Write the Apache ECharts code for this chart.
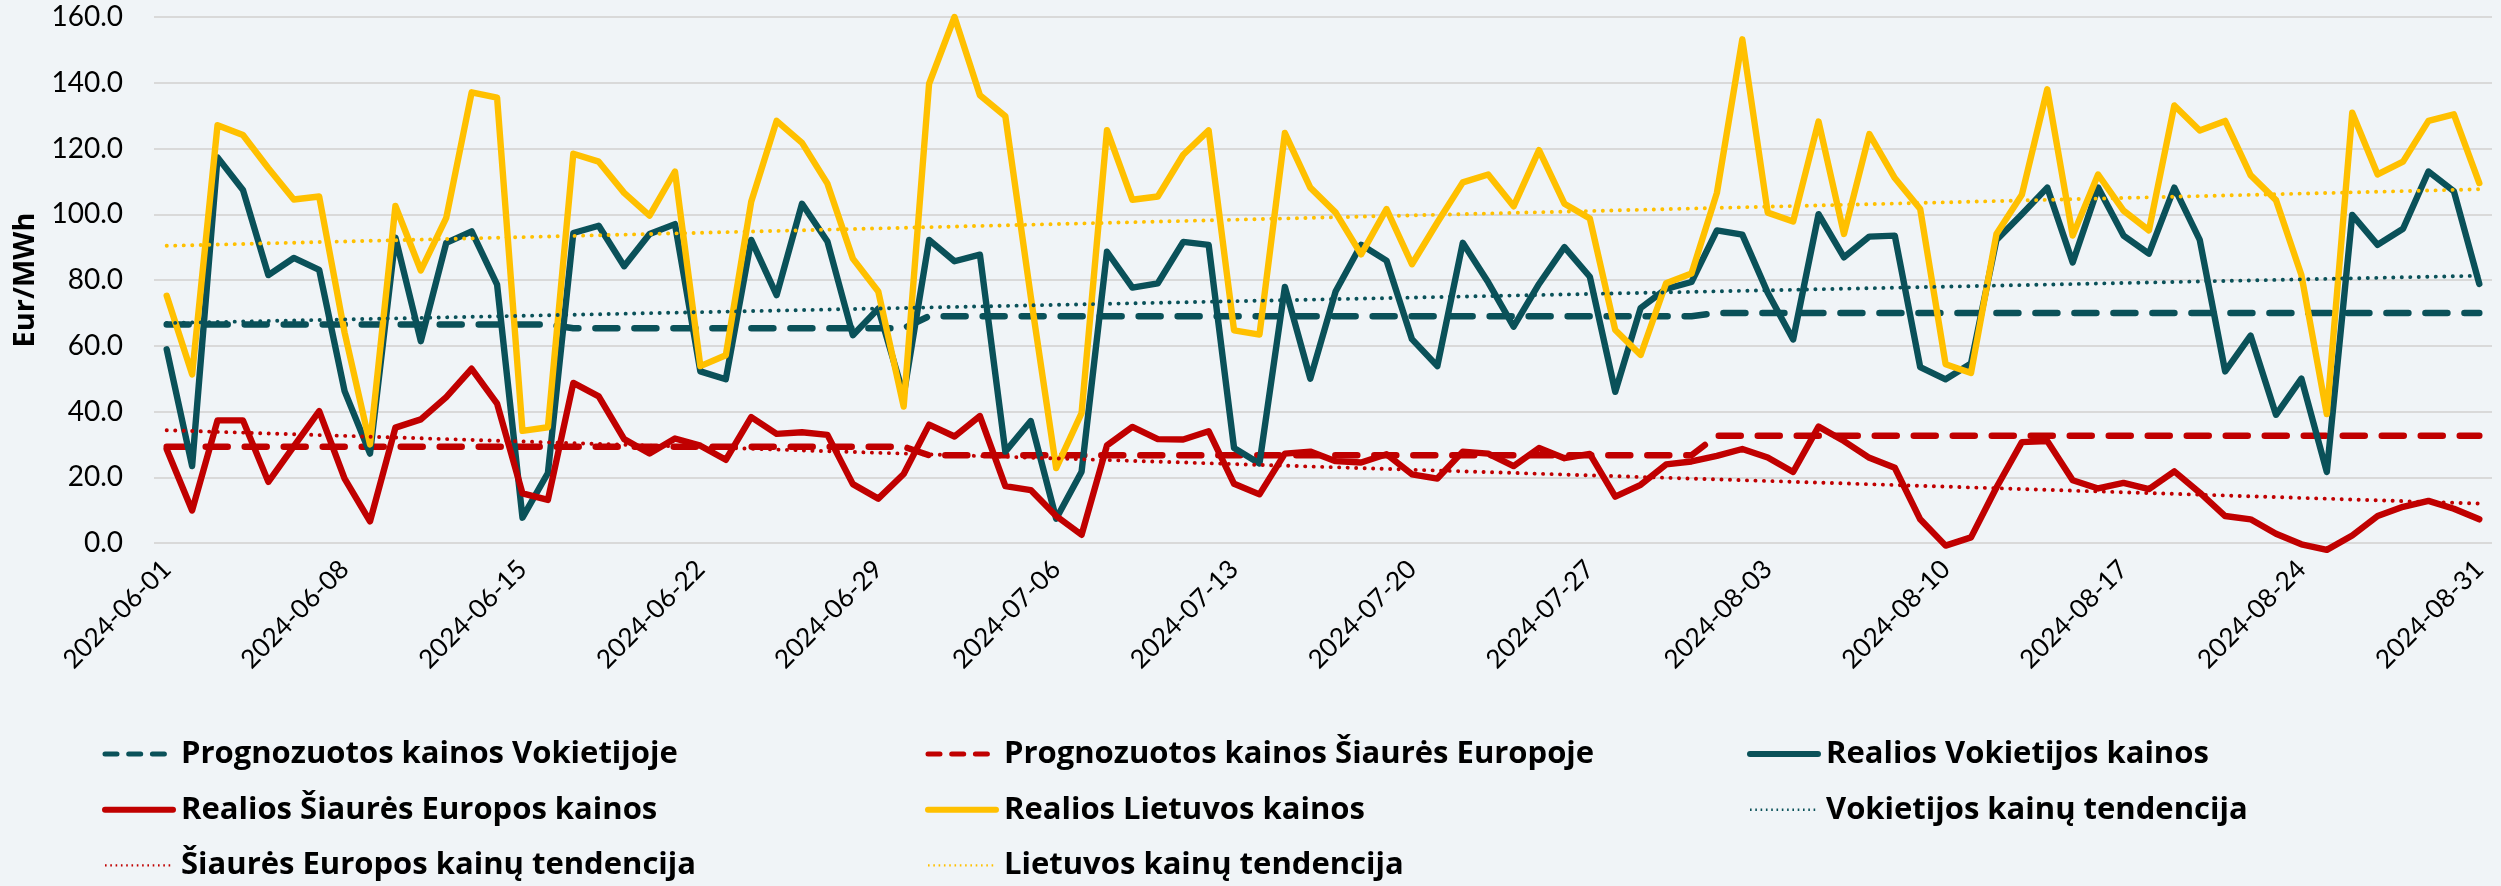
<!DOCTYPE html>
<html>
<head>
<meta charset="utf-8">
<script src="https://cdn.jsdelivr.net/npm/echarts@6/dist/echarts.min.js"></script>
<style>
html,body{margin:0;padding:0;background:#F0F4F7;}
#chart{width:2501px;height:886px;}
</style>
</head>
<body>
<div id="chart"></div>
<script>
const categories = [
'2024-06-01','2024-06-02','2024-06-03','2024-06-04','2024-06-05','2024-06-06','2024-06-07','2024-06-08','2024-06-09','2024-06-10',
'2024-06-11','2024-06-12','2024-06-13','2024-06-14','2024-06-15','2024-06-16','2024-06-17','2024-06-18','2024-06-19','2024-06-20',
'2024-06-21','2024-06-22','2024-06-23','2024-06-24','2024-06-25','2024-06-26','2024-06-27','2024-06-28','2024-06-29','2024-06-30',
'2024-07-01','2024-07-02','2024-07-03','2024-07-04','2024-07-05','2024-07-06','2024-07-07','2024-07-08','2024-07-09','2024-07-10',
'2024-07-11','2024-07-12','2024-07-13','2024-07-14','2024-07-15','2024-07-16','2024-07-17','2024-07-18','2024-07-19','2024-07-20',
'2024-07-21','2024-07-22','2024-07-23','2024-07-24','2024-07-25','2024-07-26','2024-07-27','2024-07-28','2024-07-29','2024-07-30',
'2024-07-31','2024-08-01','2024-08-02','2024-08-03','2024-08-04','2024-08-05','2024-08-06','2024-08-07','2024-08-08','2024-08-09',
'2024-08-10','2024-08-11','2024-08-12','2024-08-13','2024-08-14','2024-08-15','2024-08-16','2024-08-17','2024-08-18','2024-08-19',
'2024-08-20','2024-08-21','2024-08-22','2024-08-23','2024-08-24','2024-08-25','2024-08-26','2024-08-27','2024-08-28','2024-08-29',
'2024-08-30','2024-08-31'];

const yTicks = [0, 20, 40, 60, 80, 100, 120, 140, 160];

const forecastDE = [
66.5,66.5,66.5,66.5,66.5,66.5,66.5,66.5,66.5,66.5,
66.5,66.5,66.5,66.5,66.5,66.5,65.3,65.3,65.3,65.3,
65.3,65.3,65.3,65.3,65.3,65.3,65.3,65.3,65.3,65.3,
69.0,69.0,69.0,69.0,69.0,69.0,69.0,69.0,69.0,69.0,
69.0,69.0,69.0,69.0,69.0,69.0,69.0,69.0,69.0,69.0,
69.0,69.0,69.0,69.0,69.0,69.0,69.0,69.0,69.0,69.0,
69.0,70.0,70.0,70.0,70.0,70.0,70.0,70.0,70.0,70.0,
70.0,70.0,70.0,70.0,70.0,70.0,70.0,70.0,70.0,70.0,
70.0,70.0,70.0,70.0,70.0,70.0,70.0,70.0,70.0,70.0,
70.0,70.0];

const forecastNE = [
29.3,29.3,29.3,29.3,29.3,29.3,29.3,29.3,29.3,29.3,
29.3,29.3,29.3,29.3,29.3,29.3,29.3,29.3,29.3,29.3,
29.3,29.3,29.3,29.3,29.3,29.3,29.3,29.3,29.3,29.3,
26.7,26.7,26.7,26.7,26.7,26.7,26.7,26.7,26.7,26.7,
26.7,26.7,26.7,26.7,26.7,26.7,26.7,26.7,26.7,26.7,
26.7,26.7,26.7,26.7,26.7,26.7,26.7,26.7,26.7,26.7,
26.7,32.6,32.6,32.6,32.6,32.6,32.6,32.6,32.6,32.6,
32.6,32.6,32.6,32.6,32.6,32.6,32.6,32.6,32.6,32.6,
32.6,32.6,32.6,32.6,32.6,32.6,32.6,32.6,32.6,32.6,
32.6,32.6];

const realDE = [
58.9,23.4,117.3,107.4,81.5,86.7,83.1,46.2,27.2,92.9,
61.4,91.3,94.8,78.6,7.7,21.3,94.3,96.5,84.2,94.0,
97.0,52.2,49.8,92.2,75.4,103.2,91.7,63.2,71.3,45.0,
92.2,85.7,87.7,27.8,37.1,7.4,21.7,88.6,77.7,79.0,
91.6,90.7,28.9,24.2,77.9,50.0,76.6,90.7,85.9,62.0,
53.8,91.3,79.3,65.8,78.8,90.0,81.0,46.0,71.5,77.3,
79.4,95.1,93.8,76.1,61.9,100.0,86.9,93.2,93.5,53.5,
49.8,54.6,92.2,100.0,108.1,85.3,108.1,93.5,88.0,108.1,
92.2,52.2,63.1,39.0,50.0,21.6,99.8,90.7,95.6,113.0,
107.0,78.8];

const realNE = [
28.5,9.9,37.3,37.3,18.6,29.4,40.1,19.6,6.6,35.1,
37.6,44.4,53.0,42.4,15.1,13.1,48.7,44.6,31.6,27.2,
31.8,29.6,25.3,38.3,33.2,33.7,32.9,17.9,13.5,21.0,
36.0,32.4,38.6,17.3,16.1,8.2,2.5,29.7,35.3,31.6,
31.5,34.0,18.0,14.8,27.2,27.8,24.9,24.5,27.0,20.9,
19.6,27.8,27.2,23.4,28.9,25.8,27.1,14.1,17.7,23.9,
24.8,26.5,28.6,26.0,21.6,35.4,31.0,25.9,22.9,7.2,
-0.8,1.7,16.9,30.7,31.0,19.1,16.6,18.3,16.4,21.8,
15.3,8.2,7.2,2.8,-0.4,-2.1,2.3,8.2,11.0,12.8,
10.4,7.2];

const realLT = [
75.2,51.3,127.1,124.1,114.0,104.5,105.4,64.0,30.0,102.5,
82.9,98.9,137.1,135.5,34.1,35.2,118.4,116.0,106.5,99.6,
113.0,53.8,57.1,103.8,128.4,121.7,109.3,86.5,76.5,41.5,
139.7,160.0,136.2,129.8,75.0,22.8,39.5,125.6,104.4,105.4,
118.1,125.5,64.7,63.4,124.7,108.1,100.5,87.8,101.6,84.8,
97.5,109.7,112.1,102.4,119.5,103.2,98.7,64.8,57.2,79.0,
82.0,106.5,153.2,100.5,97.8,128.2,94.0,124.4,111.0,101.6,
54.4,51.7,94.0,105.9,138.0,93.5,112.1,101.1,95.1,133.1,
125.5,128.4,111.9,104.3,81.5,39.2,130.9,112.1,116.0,128.4,
130.4,109.5];

// trend line end values (first day, last day)
const trendDE = [66.9, 81.3];
const trendNE = [34.3, 12.0];
const trendLT = [90.4, 107.6];

const names = [
  'Prognozuotos kainos Vokietijoje',
  'Prognozuotos kainos Šiaurės Europoje',
  'Realios Vokietijos kainos',
  'Realios Šiaurės Europos kainos',
  'Realios Lietuvos kainos',
  'Vokietijos kainų tendencija',
  'Šiaurės Europos kainų tendencija',
  'Lietuvos kainų tendencija'
];

const TEAL = '#0A5159', RED = '#C00000', GOLD = '#FFC000';

function trendData(t) {
  return categories.map((c, i) => i === 0 ? t[0] : (i === categories.length - 1 ? t[1] : null));
}

const FONT = 'Lato';
const dashed = [22, 17];
const dotted = [0.1, 8.4];

function lineSeries(name, data, color, width, type, cap, z) {
  return {
    name, type: 'line', data, symbol: 'none', showSymbol: false, clip: false,
    connectNulls: true, z,
    lineStyle: { color, width, type, cap, join: 'round' },
    itemStyle: { color },
    emphasis: { disabled: true }
  };
}

const series = [
  lineSeries(names[0], forecastDE, TEAL, 6.5, dashed, 'round', 2),
  lineSeries(names[1], forecastNE, RED, 6.5, dashed, 'round', 2),
  lineSeries(names[2], realDE, TEAL, 6.4, 'solid', 'round', 3),
  lineSeries(names[3], realNE, RED, 6.4, 'solid', 'round', 3),
  lineSeries(names[4], realLT, GOLD, 6.4, 'solid', 'round', 3),
  lineSeries(names[5], trendData(trendDE), TEAL, 3.9, dotted, 'round', 4),
  lineSeries(names[6], trendData(trendNE), RED, 3.9, dotted, 'round', 4),
  lineSeries(names[7], trendData(trendLT), GOLD, 3.9, dotted, 'round', 4)
];

const legendText = { fontFamily: 'Open Sans', fontWeight: 'bold', fontSize: 31, lineHeight: 36, color: '#000', padding: [0, 0, 0, 3] };
const noSym = { opacity: 0 };
const iconDash = { width: 5, type: [12, 11.7], cap: 'round' };
const iconSolid = { width: 6, type: 'solid', cap: 'round' };
const iconDot = { width: 2.4, type: [1.6, 3.7], cap: 'butt' };

function legendCol(left, items) {
  return {
    orient: 'vertical', left, top: 736, padding: 0,
    itemWidth: 68, itemHeight: 14, itemGap: 19.7,
    textStyle: legendText,
    data: items
  };
}

const option = {
  animation: false,
  backgroundColor: '#F0F4F7',
  grid: { left: 154, right: 9, top: 17, bottom: 343, containLabel: false },
  xAxis: {
    type: 'category', data: categories, boundaryGap: true,
    axisLine: { show: false }, axisTick: { show: false },
    axisLabel: { interval: 6, rotate: 45, fontFamily: FONT, fontSize: 26, color: '#000', margin: 22 }
  },
  yAxis: {
    type: 'value', min: yTicks[0], max: yTicks[yTicks.length - 1], interval: 20,
    name: 'Eur/MWh', nameLocation: 'middle', nameRotate: 90, nameGap: 113,
    nameTextStyle: { fontFamily: 'Open Sans', fontWeight: 'bold', fontSize: 29, color: '#000' },
    axisLine: { show: false }, axisTick: { show: false },
    axisLabel: { fontFamily: FONT, fontSize: 28, color: '#000', margin: 31, formatter: v => v.toFixed(1) },
    splitLine: { lineStyle: { color: '#D9D9D9', width: 2 } }
  },
  legend: [
    legendCol(102, [
      { name: names[0], lineStyle: iconDash, itemStyle: noSym },
      { name: names[3], lineStyle: iconSolid, itemStyle: noSym },
      { name: names[6], lineStyle: iconDot, itemStyle: noSym }
    ]),
    legendCol(925, [
      { name: names[1], lineStyle: iconDash, itemStyle: noSym },
      { name: names[4], lineStyle: iconSolid, itemStyle: noSym },
      { name: names[7], lineStyle: iconDot, itemStyle: noSym }
    ]),
    legendCol(1747, [
      { name: names[2], lineStyle: iconSolid, itemStyle: noSym },
      { name: names[5], lineStyle: iconDot, itemStyle: noSym }
    ])
  ],
  series
};

const chart = echarts.init(document.getElementById('chart'), null, { renderer: 'canvas' });
chart.setOption(option);
</script>
</body>
</html>
